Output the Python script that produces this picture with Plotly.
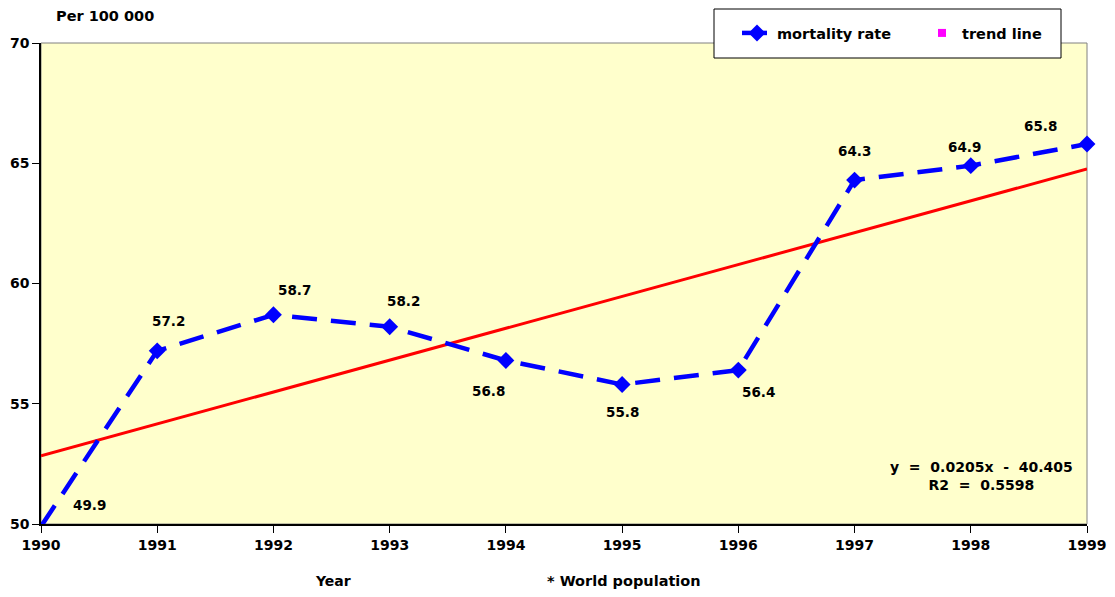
import numpy as np
import plotly.graph_objects as go

years = [1990, 1991, 1992, 1993, 1994, 1995, 1996, 1997, 1998, 1999]
mortality = [49.9, 57.2, 58.7, 58.2, 56.8, 55.8, 56.4, 64.3, 64.9, 65.8]
x_ticks = years
y_ticks = [50, 55, 60, 65, 70]
Y_MIN, Y_MAX = 50, 70

# label offsets in pixels (style, not data)
label_dx = [48, 11, 21, 14, -17, 0, 20, 0, -6, -47]
label_dy = [19, 30, 25, 26, -31, -27, -22, 29, 19, 18]

slope, intercept = np.polyfit(years, mortality, 1)
trend = [slope * y + intercept for y in years]

FONT = "DejaVu Sans, Verdana, sans-serif"

fig = go.Figure()
fig.add_trace(go.Scatter(
    x=years, y=trend, mode="lines", name="trend",
    line=dict(color="#FF0000", width=3), showlegend=False, hoverinfo="skip"))
fig.add_trace(go.Scatter(
    x=years, y=mortality, mode="lines+markers", name="mortality rate",
    line=dict(color="#0000FF", width=4.5, dash="25px,14px"),
    marker=dict(symbol="diamond", size=13, color="#0000FF"),
    cliponaxis=False))
fig.add_trace(go.Scatter(
    x=[None], y=[None], mode="markers", name="trend line",
    marker=dict(symbol="square", size=8, color="#FF00FF")))

annotations = []
for x, y, dx, dy in zip(years, mortality, label_dx, label_dy):
    # keep anchor inside the axis range so the label is drawn
    annotations.append(dict(x=x, y=max(y, Y_MIN), xref="x", yref="y", text=f"{y:.1f}",
                            showarrow=False, xshift=dx, yshift=dy,
                            font=dict(family=FONT, size=13.5, color="#000", weight="bold")))

def pa(text, px, py, size=14, align="center"):
    return dict(xref="paper", yref="paper", x=(px - 41) / 1046, y=(524 - py) / 481,
                text=text, showarrow=False, xanchor="center", yanchor="middle", align=align,
                font=dict(family=FONT, size=size, color="#000", weight="bold"))

annotations += [
    pa("Per 100 000", 105, 16, size=14.5),
    pa("Year", 333, 581),
    pa("* World population", 624, 581, size=14.5),
    pa("y  =  0.0205x  -  40.405<br>R2  =  0.5598", 981, 476),
]

shapes = [
    dict(type="rect", xref="paper", yref="paper", x0=0, x1=1, y0=0, y1=1,
         line=dict(color="#808080", width=1), layer="below"),
    dict(type="rect", xref="paper", yref="paper",
         x0=(714 - 41) / 1046, x1=(1061 - 41) / 1046,
         y0=(524 - 58) / 481, y1=(524 - 9) / 481,
         fillcolor="#FFFFFF", line=dict(color="#000000", width=1), layer="above"),
]

fig.update_layout(
    width=1115, height=597,
    margin=dict(l=41, r=28, t=43, b=73, autoexpand=False),
    paper_bgcolor="#FFFFFF", plot_bgcolor="#FFFFCC",
    font=dict(family=FONT, size=14, color="#000", weight="bold"),
    showlegend=True,
    legend=dict(orientation="h", x=(737 - 41) / 1046, y=(524 - 33) / 481,
                xanchor="left", yanchor="middle", bgcolor="rgba(0,0,0,0)",
                borderwidth=0, entrywidth=140, entrywidthmode="pixels",
                font=dict(family=FONT, size=14.5, color="#000", weight="bold")),
    annotations=annotations, shapes=shapes,
    xaxis=dict(range=[1990, 1999], tickvals=x_ticks, ticktext=[str(t) for t in x_ticks],
               showgrid=False, zeroline=False, showline=True, linecolor="#000", linewidth=1.5,
               ticks="outside", ticklen=7, tickcolor="#000", tickwidth=1,
               tickfont=dict(family=FONT, size=14, color="#000", weight="bold")),
    yaxis=dict(range=[Y_MIN, Y_MAX], tickvals=y_ticks, showgrid=False, zeroline=False,
               showline=True, linecolor="#000", linewidth=1.5,
               ticks="outside", ticklen=7, tickcolor="#000", tickwidth=1,
               tickfont=dict(family=FONT, size=14, color="#000", weight="bold")),
)

fig.write_html("out.html", config={"displayModeBar": False},
               post_script="document.body.style.margin='0';")
